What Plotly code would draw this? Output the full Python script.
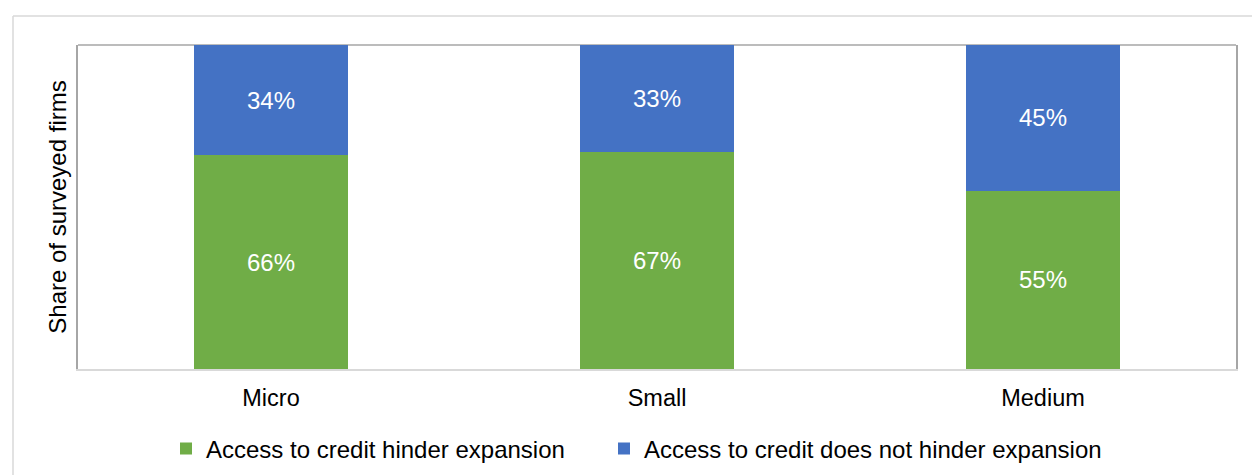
import plotly.graph_objects as go

categories = ["Micro", "Small", "Medium"]
hinder = [66, 67, 55]
not_hinder = [34, 33, 45]
series_names = ["Access to credit hinder expansion", "Access to credit does not hinder expansion"]
y_title = "Share of surveyed firms"

GREEN = "#70AD47"
BLUE = "#4472C4"
FONT = "Liberation Sans, Arial, sans-serif"

W, H = 1252, 475
L, R, T, B = 78, 16, 45, 106
pw, ph = W - L - R, H - T - B

def px_x(p):
    return (p - L) / pw

def px_y(p):
    return (H - B - p) / ph

fig = go.Figure()
for name, vals, col, leg in [(series_names[0], hinder, GREEN, "legend"),
                             (series_names[1], not_hinder, BLUE, "legend2")]:
    fig.add_trace(go.Bar(
        x=categories, y=vals, name=name, legend=leg,
        marker=dict(color=col, line=dict(width=0)),
        text=[f"{v}%" for v in vals], textposition="inside",
        insidetextanchor="middle",
        textfont=dict(color="white", size=24, family=FONT),
        hoverinfo="skip",
    ))

frame_x = px_x(13)
frame_y = px_y(16)
shapes = [
    dict(type="line", xref="paper", yref="paper", x0=frame_x, x1=1.05, y0=frame_y, y1=frame_y,
         line=dict(color="#D9D9D9", width=1.5), layer="below"),
    dict(type="line", xref="paper", yref="paper", x0=frame_x, x1=frame_x, y0=frame_y, y1=-0.5,
         line=dict(color="#D9D9D9", width=1.5), layer="below"),
    dict(type="line", xref="paper", yref="paper", x0=0, x1=1, y0=1, y1=1,
         line=dict(color="#A6A6A6", width=1.5), layer="below"),
]

leg_common = dict(orientation="h", yanchor="middle", y=px_y(449), xanchor="left",
                  font=dict(size=24, family=FONT, color="#000000"),
                  itemclick=False, itemdoubleclick=False, bgcolor="rgba(0,0,0,0)")

fig.update_layout(
    width=W, height=H, autosize=False,
    margin=dict(l=L, r=R, t=T, b=B, autoexpand=False),
    barmode="stack", bargap=0.6,
    plot_bgcolor="white", paper_bgcolor="white",
    font=dict(family=FONT, size=24, color="#000000"),
    showlegend=True,
    legend=dict(x=px_x(166), **leg_common),
    legend2=dict(x=px_x(604), **leg_common),
    shapes=shapes,
    uniformtext=dict(mode="show", minsize=10),
)
fig.update_xaxes(
    showline=True, linecolor="#D9D9D9", linewidth=2, mirror=False,
    showgrid=False, zeroline=False, ticks="", ticklabelstandoff=7,
    tickfont=dict(size=23.5, family=FONT, color="#000000"),
    fixedrange=True, automargin=False,
)
fig.update_yaxes(
    range=[0, 100], showline=True, linecolor="#A6A6A6", linewidth=1.5, mirror=True,
    showgrid=False, zeroline=False, showticklabels=False, ticks="",
    title=dict(text=y_title, font=dict(size=24, family=FONT, color="#000000"), standoff=3),
    fixedrange=True, automargin=False,
)

fig.write_html("out.html", config={"displayModeBar": False},
               post_script="document.body.style.margin='0px';document.body.style.overflow='hidden';")
